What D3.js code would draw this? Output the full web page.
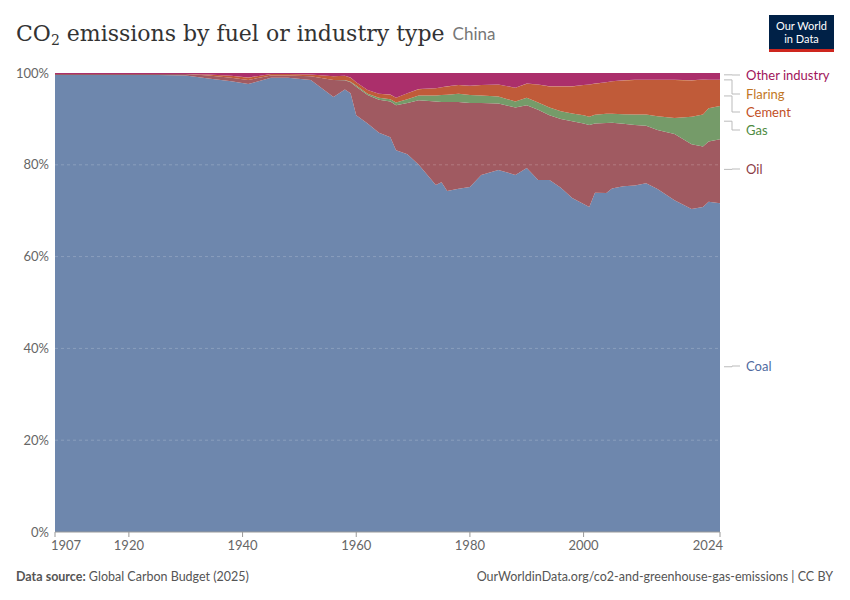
<!DOCTYPE html><html><head><meta charset="utf-8">
<script src="https://cdn.jsdelivr.net/npm/d3@7"></script>
<style>body{margin:0;background:#fff;font-family:Lato,sans-serif}</style></head><body>
<svg id="c" width="850" height="600"></svg>
<script>
const years=[1907,1915,1925,1930,1934,1938,1941,1945,1948,1952,1956,1958,1959,1960,1962,1964,1966,1967,1969,1971,1974,1975,1976,1978,1980,1982,1985,1988,1990,1992,1994,1996,1998,2000,2001,2002,2004,2005,2007,2009,2011,2013,2016,2019,2021,2022,2024];
const coal=[99.6,99.6,99.6,99.5,98.8,98.2,97.6,99,99,98.5,94.8,96.5,95.6,90.8,89,87,86,83.2,82.3,80,75.6,76.2,74.3,74.8,75.2,77.8,78.9,77.8,79.3,76.7,76.7,75,72.8,71.5,70.8,73.9,74,75.2,75.8,76.2,76.7,75.5,73,70.4,70.8,72.3,72];
const oil=[0.2,0.2,0.2,0.3,0.7,0.8,0.9,0.5,0.5,0.8,3.7,2.0,2.4,6.2,6.2,7.2,7.8,9.8,11.2,14.1,18.2,17.5,19.4,18.9,18.3,15.7,14.5,14.7,13.7,15.3,14.1,15,16.7,17.5,17.9,15.1,15.3,14.4,13.7,13.3,12.6,13,14.6,14.1,13.2,13.2,14];
const gas=[0,0,0,0,0,0,0,0,0,0,0,0.05,0.1,0.3,0.3,0.4,0.5,0.6,0.8,1,1.3,1.5,1.6,1.8,1.7,1.6,1.5,1.3,1.6,1.6,1.7,1.7,1.7,1.8,1.8,1.9,2,2,2.1,2.3,2.5,3,3.5,6,7,7.3,7.3];
const cement=[0,0,0,0,0.2,0.4,0.5,0.3,0.3,0.4,0.8,0.9,0.9,0.7,0.8,0.9,1,1,1.3,1.4,1.6,1.7,1.8,1.9,2,2.3,2.6,3,3.1,3.9,4.6,5.4,5.9,6.6,7,6.8,6.9,7.1,7.4,7.6,7.6,8,8.4,7.9,7.6,6.2,5.7];
const flaring=years.map(()=>0.02);
const other=[0.2,0.2,0.2,0.2,0.3,0.6,1,0.2,0.2,0.3,0.7,0.6,1,2,3.7,4.5,4.7,5.4,4.4,3.5,3.3,3.1,2.9,2.6,2.8,2.6,2.5,3.2,2.3,2.5,2.9,2.9,2.9,2.6,2.5,2.3,2.0,1.8,1.6,1.5,1.5,1.5,1.5,1.6,1.4,1.5,1.5];
const xTicks=[1907,1920,1940,1960,1980,2000,2024];
const yTicks=[0,0.2,0.4,0.6,0.8,1];
const keys=["Coal","Oil","Gas","Cement","Flaring","Other industry"];
const vals=[coal,oil,gas,cement,flaring,other];
const fill={"Coal":"#6e87ad","Oil":"#a05a61","Gas":"#759b69","Cement":"#c05b39","Flaring":"#d4802e","Other industry":"#ab2f6b"};
const tcol={"Coal":"#4f6b9f","Oil":"#8c3c46","Gas":"#4d8a41","Cement":"#c2501f","Flaring":"#c27726","Other industry":"#a0135a"};
const rows=years.map((y,i)=>{const o={year:y};keys.forEach((k,j)=>o[k]=vals[j][i]);return o;});
const svg=d3.select("#c");
const L=55,R=720,T=73,B=532;
const x=d3.scaleLinear().domain([1907,2024]).range([L,R]);
const y=d3.scaleLinear().domain([0,1]).range([B,T]);
const stack=d3.stack().keys(keys).offset(d3.stackOffsetExpand)(rows);
const area=d3.area().x(d=>x(d.data.year)).y0(d=>y(d[0])).y1(d=>y(d[1]));
svg.append("g").selectAll("path").data(stack).join("path").attr("d",area).attr("fill",d=>fill[d.key]);
const ya=svg.append("g");
yTicks.forEach(t=>{
 if(t>0&&t<1) ya.append("line").attr("x1",L).attr("x2",R).attr("y1",y(t)).attr("y2",y(t)).attr("stroke","#fff").attr("stroke-opacity",0.2).attr("stroke-dasharray","3,3");
 ya.append("text").attr("x",L-6).attr("y",y(t)).attr("dy","0.35em").attr("text-anchor","end").attr("font-size",13).attr("fill","#666").text(d3.format(".0%")(t));
});
svg.append("line").attr("x1",L).attr("x2",R).attr("y1",B).attr("y2",B).attr("stroke","#999");
xTicks.forEach((t,i)=>{
 svg.append("line").attr("x1",x(t)).attr("x2",x(t)).attr("y1",B).attr("y2",B+5).attr("stroke","#999");
 const a=i===0?"start":i===xTicks.length-1?"end":"middle";
 const dx=i===0?-4:i===xTicks.length-1?3:0;
 svg.append("text").attr("x",x(t)+dx).attr("y",B+18).attr("text-anchor",a).attr("font-size",13).attr("fill","#666").text(t);
});
const labs=[["Other industry",75,0.996],["Flaring",94,0.985],["Cement",112,0.95],["Gas",130,0.895],["Oil",169,0.79],["Coal",366,0.36]];
labs.forEach(([k,ly,v])=>{
 const sy=y(v);
 svg.append("path").attr("d",`M${R+4},${sy}H${R+12}V${ly}H${R+20}`).attr("fill","none").attr("stroke","#bbb");
 svg.append("text").attr("x",R+26).attr("y",ly).attr("dy","0.35em").attr("font-size",13).attr("fill",tcol[k]).text(k);
});
const title=svg.append("text").attr("x",16).attr("y",41).attr("font-family","'DejaVu Serif',serif").attr("font-size",22).attr("fill","#333")
 .html('CO<tspan font-size="14" dy="4">2</tspan><tspan dy="-4"> emissions by fuel or industry type</tspan>');
const tw=title.node().getComputedTextLength();
svg.append("text").attr("x",16+tw+8).attr("y",40).attr("font-size",17).attr("fill","#777").text("China");
svg.append("rect").attr("x",769).attr("y",15).attr("width",65).attr("height",37).attr("fill","#002147");
svg.append("rect").attr("x",769).attr("y",49).attr("width",65).attr("height",3).attr("fill","#ce261e");
svg.append("text").attr("x",801.5).attr("y",30).attr("text-anchor","middle").attr("font-size",11).attr("fill","#fff").text("Our World");
svg.append("text").attr("x",801.5).attr("y",43).attr("text-anchor","middle").attr("font-size",11).attr("fill","#fff").text("in Data");
svg.append("text").attr("x",16).attr("y",581).attr("font-size",12.5).attr("fill","#555").html('<tspan font-weight="bold">Data source:</tspan> Global Carbon Budget (2025)');
svg.append("text").attr("x",833).attr("y",581).attr("text-anchor","end").attr("font-size",12.5).attr("fill","#555").text("OurWorldinData.org/co2-and-greenhouse-gas-emissions | CC BY");
</script></body></html>
